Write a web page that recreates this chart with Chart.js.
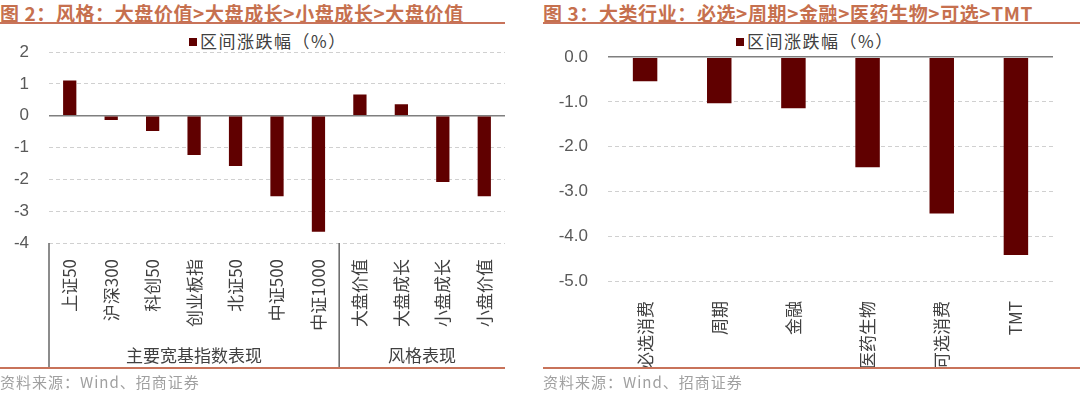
<!DOCTYPE html>
<html lang="zh">
<head>
<meta charset="UTF-8">
<script src="https://cdn.jsdelivr.net/npm/chart.js"></script>
<style>
  body { margin: 0; padding: 0; width: 1080px; height: 393px; background: #fff; position: relative; overflow: hidden;
         font-family: "Noto Sans CJK SC", "Liberation Sans", sans-serif; }
  .title { position: absolute; top: -1px; font-size: 19px; font-weight: bold; color: #c6704e; letter-spacing: 0.6px; white-space: nowrap; }
  .rule { position: absolute; height: 2px; background: #c8735a; }
  .box { position: absolute; }
  .legend { position: absolute; top: 30px; font-size: 17px; color: #404040; white-space: nowrap; line-height: 22px; letter-spacing: 1.5px; }
  .legend i { display: inline-block; width: 8px; height: 8px; background: #600000; margin-right: 3px; vertical-align: 2px; }
  .src { position: absolute; top: 371px; font-size: 15px; color: #a0a0a0; letter-spacing: 1px; white-space: nowrap; }
</style>
</head>
<body>

<div class="title" style="left:0">图 2：风格：大盘价值&gt;大盘成长&gt;小盘成长&gt;大盘价值</div>
<div class="rule" style="left:0; top:22px; width:505px"></div>
<div class="legend" style="left:189px"><i></i>区间涨跌幅（%）</div>
<div class="box" style="left:0; top:22px; width:520px; height:346px"><canvas id="c1"></canvas></div>
<div class="rule" style="left:0; top:367px; width:505px"></div>
<div class="src" style="left:0">资料来源：Wind、招商证券</div>

<div class="title" style="left:543px">图 3：大类行业：必选&gt;周期&gt;金融&gt;医药生物&gt;可选&gt;TMT</div>
<div class="rule" style="left:543px; top:22px; width:537px"></div>
<div class="legend" style="left:736px"><i></i>区间涨跌幅（%）</div>
<div class="box" style="left:540px; top:27px; width:540px; height:341px"><canvas id="c2"></canvas></div>
<div class="rule" style="left:543px; top:367px; width:537px"></div>
<div class="src" style="left:543px">资料来源：Wind、招商证券</div>

<script>
// --- data: figure 2 ---
const styleLabels = ['上证50', '沪深300', '科创50', '创业板指', '北证50', '中证500', '中证1000',
                     '大盘价值', '大盘成长', '小盘成长', '小盘价值'];
const styleValues = [1.11, -0.13, -0.48, -1.23, -1.58, -2.53, -3.65, 0.67, 0.36, -2.08, -2.53];
const groupNames = ['主要宽基指数表现', '风格表现'];
const groupSizes = [7, 4];
const styleTicks = [2, 1, 0, -1, -2, -3, -4];

// --- data: figure 3 ---
const sectorLabels = ['必选消费', '周期', '金融', '医药生物', '可选消费', 'TMT'];
const sectorValues = [-0.54, -1.03, -1.14, -2.46, -3.49, -4.42];
const sectorTicks = [0, -1, -2, -3, -4, -5];

const seriesName = '区间涨跌幅（%）';
const barColor = '#600000';

// zero line solid, other grid lines dashed
const gridColor = ctx => (ctx.tick && ctx.tick.value === 0) ? '#7f7f7f' : '#d0d0d0';
const gridWidth = ctx => (ctx.tick && ctx.tick.value === 0) ? 1.5 : 1;
const gridDash = ctx => (ctx.tick && ctx.tick.value === 0) ? [] : [4, 3];

// vertical separators + group names under the category axis
const groupPlugin = {
  id: 'groups',
  afterDraw(chart) {
    const { ctx, scales: { x } } = chart;
    const bottom = chart.height;
    ctx.save();
    ctx.strokeStyle = '#666';
    ctx.lineWidth = 1.5;
    ctx.fillStyle = '#404040';
    ctx.font = '17px "Noto Sans CJK SC"';
    ctx.textAlign = 'center';
    ctx.textBaseline = 'middle';
    let start = 0;
    groupSizes.forEach((n, g) => {
      const end = start + n - 1;
      const left = start === 0 ? x.left : (x.getPixelForTick(start - 1) + x.getPixelForTick(start)) / 2;
      const right = end === styleLabels.length - 1 ? x.right : (x.getPixelForTick(end) + x.getPixelForTick(end + 1)) / 2;
      ctx.beginPath();
      ctx.moveTo(left, x.top);
      ctx.lineTo(left, bottom);
      ctx.stroke();
      ctx.fillText(groupNames[g], (left + right) / 2, bottom - 12);
      start += n;
    });
    ctx.restore();
  }
};

new Chart(document.getElementById('c1'), {
  type: 'bar',
  data: {
    labels: styleLabels,
    datasets: [{ label: seriesName, data: styleValues, backgroundColor: barColor, barPercentage: 0.32, categoryPercentage: 1 }]
  },
  options: {
    responsive: true,
    maintainAspectRatio: false,
    animation: false,
    layout: { padding: { top: 0, right: 15, left: 0, bottom: 0 } },
    plugins: { legend: { display: false }, tooltip: { enabled: false } },
    scales: {
      x: {
        grid: { display: false },
        border: { display: false },
        ticks: { color: '#404040', font: { size: 17, family: '"Noto Sans CJK SC"' }, minRotation: 90, maxRotation: 90, padding: 8, autoSkip: false },
        afterFit: s => { s.height = 125; }
      },
      y: {
        min: -4, max: 2,
        afterBuildTicks: s => { s.ticks = styleTicks.map(v => ({ value: v })); },
        grid: { color: gridColor, lineWidth: gridWidth, drawTicks: false },
        border: { display: false, dash: gridDash },
        ticks: { color: '#595959', font: { size: 17, family: '"Liberation Sans"' }, padding: 20 },
        afterFit: s => { s.width = 49; }
      }
    }
  },
  plugins: [groupPlugin]
});

new Chart(document.getElementById('c2'), {
  type: 'bar',
  data: {
    labels: sectorLabels,
    datasets: [{ label: seriesName, data: sectorValues, backgroundColor: barColor, barPercentage: 0.33, categoryPercentage: 1 }]
  },
  options: {
    responsive: true,
    maintainAspectRatio: false,
    animation: false,
    layout: { padding: { top: 0, right: 27, left: 0, bottom: 0 } },
    plugins: { legend: { display: false }, tooltip: { enabled: false } },
    scales: {
      x: {
        grid: { display: false },
        border: { display: false },
        ticks: { color: '#404040', font: { size: 17, family: '"Noto Sans CJK SC"' }, minRotation: 90, maxRotation: 90, padding: 12, autoSkip: false },
        afterFit: s => { s.height = 87; }
      },
      y: {
        min: -5, max: 0,
        afterBuildTicks: s => { s.ticks = sectorTicks.map(v => ({ value: v })); },
        grid: { color: gridColor, lineWidth: gridWidth, drawTicks: false },
        border: { display: false, dash: gridDash },
        ticks: { color: '#595959', font: { size: 17, family: '"Liberation Sans"' }, padding: 20, callback: v => v.toFixed(1) },
        afterFit: s => { s.width = 68; }
      }
    }
  }
});
</script>
</body>
</html>
